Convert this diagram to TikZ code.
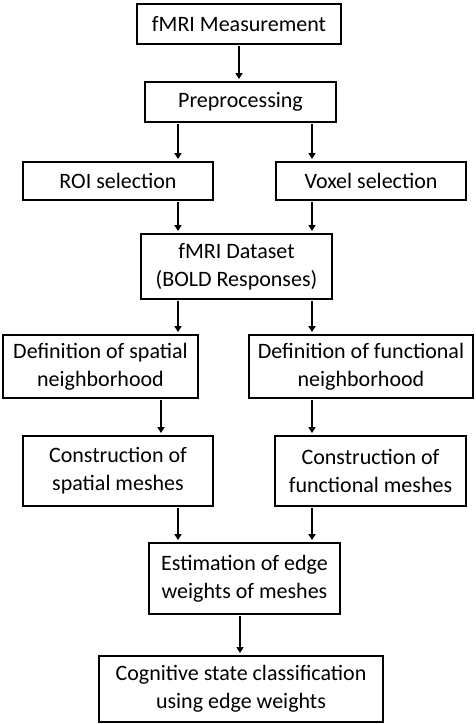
\documentclass[tikz,border=0pt]{standalone}
\usepackage{fontspec}
\setmainfont{Carlito}
\usepackage{tikz}
\usetikzlibrary{arrows.meta}
\tikzset{stage/.style={draw, line width=2.9pt, align=center, inner sep=0pt,
    font=\fontsize{22}{28}\selectfont},
    flow/.style={draw, line width=1.6pt, shorten <=1pt, shorten >=1.5pt,
    -{Triangle[length=6pt,width=7pt]}}}

\begin{document}
\begin{tikzpicture}[x=1pt,y=-1pt]
    \useasboundingbox (0,0) rectangle (476,724);
    \node[stage, minimum width=204pt, minimum height=40pt] (meas) at (239,24) {fMRI Measurement};
    \node[stage, minimum width=191pt, minimum height=40pt] (pre) at (240.5,102) {Preprocessing};
    \node[stage, minimum width=190pt, minimum height=38pt] (roi) at (118,181) {ROI selection};
    \node[stage, minimum width=190pt, minimum height=38pt] (vox) at (371,181) {Voxel selection};
    \node[stage, minimum width=191pt, minimum height=65pt] (data) at (236.5,266.5) {fMRI Dataset\\(BOLD Responses)};
    \node[stage, minimum width=195pt, minimum height=63pt] (defs) at (100.5,366.5) {Definition of spatial\\neighborhood};
    \node[stage, minimum width=224pt, minimum height=63pt] (deff) at (361,366.5) {Definition of functional\\neighborhood};
    \node[stage, minimum width=190pt, minimum height=70pt] (cons) at (118,471) {Construction of\\spatial meshes};
    \node[stage, minimum width=191pt, minimum height=70pt] (conf) at (370.5,471) {Construction of\\functional meshes};
    \node[stage, minimum width=191pt, minimum height=71pt] (est) at (244.5,578.5) {Estimation of edge\\weights of meshes};
    \node[stage, minimum width=284pt, minimum height=66pt] (cog) at (241,689) {Cognitive state classification\\using edge weights};

    \coordinate (xl) at (178,0);
    \coordinate (xr) at (312,0);
    \coordinate (xs) at (161,0);
    \coordinate (xm) at (239,0);
    \coordinate (xe) at (240,0);

    \draw[flow] (meas.south -| xm) -- (pre.north -| xm);
    \draw[flow] (pre.south -| xl) -- (roi.north -| xl);
    \draw[flow] (pre.south -| xr) -- (vox.north -| xr);
    \draw[flow] (roi.south -| xl) -- (data.north -| xl);
    \draw[flow] (vox.south -| xr) -- (data.north -| xr);
    \draw[flow] (data.south -| xl) -- (defs.north -| xl);
    \draw[flow] (data.south -| xr) -- (deff.north -| xr);
    \draw[flow] (defs.south -| xs) -- (cons.north -| xs);
    \draw[flow] (deff.south -| xr) -- (conf.north -| xr);
    \draw[flow] (cons.south -| xl) -- (est.north -| xl);
    \draw[flow] (conf.south -| xr) -- (est.north -| xr);
    \draw[flow] (est.south -| xe) -- (cog.north -| xe);
\end{tikzpicture}
\end{document}
